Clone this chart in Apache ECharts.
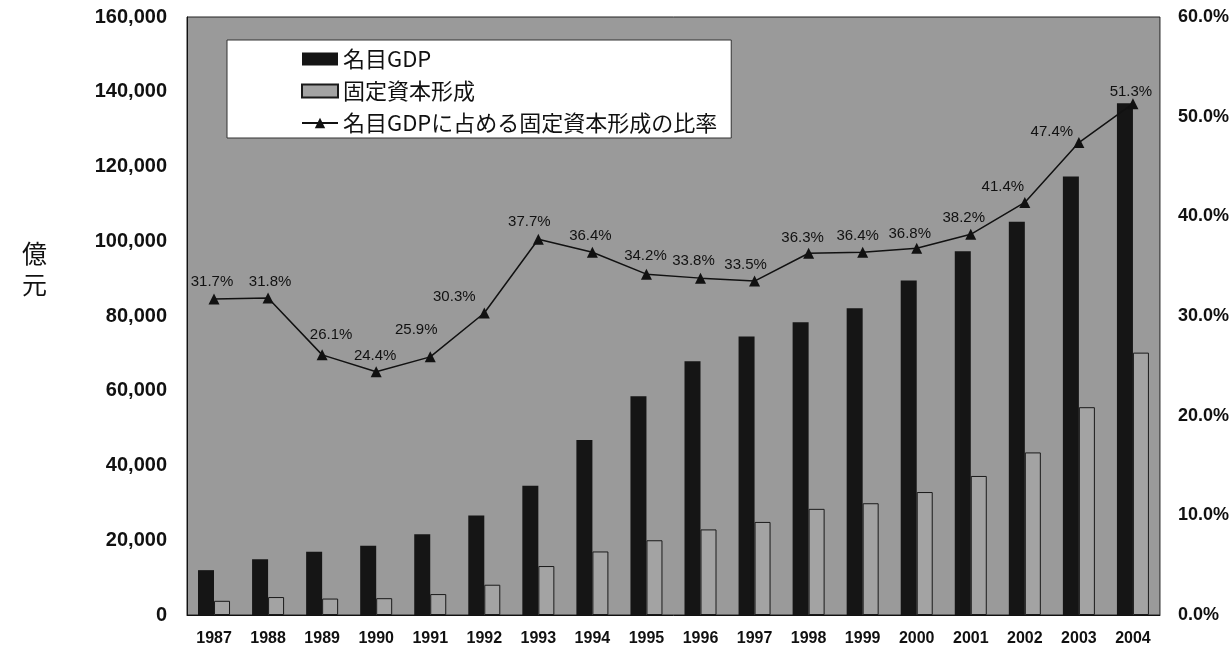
<!DOCTYPE html>
<html>
<head>
<meta charset="utf-8">
<script src="https://cdn.jsdelivr.net/npm/echarts@6/dist/echarts.min.js"></script>
<style>
  html, body { margin: 0; padding: 0; background: #fff; }
  #chart { width: 1232px; height: 648px; }
</style>
</head>
<body>
<div id="chart"></div>
<script>
// Years on the category axis
const years = ['1987', '1988', '1989', '1990', '1991', '1992', '1993', '1994', '1995',
  '1996', '1997', '1998', '1999', '2000', '2001', '2002', '2003', '2004'];

// 名目GDP (億元)
const nominalGdp = [12000, 14900, 16900, 18500, 21600, 26600, 34600, 46800, 58500,
  67900, 74500, 78300, 82100, 89500, 97300, 105200, 117300, 136900];

// 固定資本形成 (億元)
const fixedCapital = [3800, 4800, 4400, 4500, 5600, 8100, 13100, 17000, 20000,
  22900, 24900, 28400, 29900, 32900, 37200, 43500, 55600, 70200];

// 名目GDPに占める固定資本形成の比率 (%)
const ratioPct = [31.7, 31.8, 26.1, 24.4, 25.9, 30.3, 37.7, 36.4, 34.2,
  33.8, 33.5, 36.3, 36.4, 36.8, 38.2, 41.4, 47.4, 51.3];

// Series names shown in the legend
const seriesNames = ['名目GDP', '固定資本形成', '名目GDPに占める固定資本形成の比率'];

// Label nudges (px) so the percentage tags sit clear of the line
const labelNudge = [[-2,-17],[2,-16],[9,-20],[-1,-16],[-14,-27],[-30,-16],[-9,-17],[-2,-16],[-1,-18],
  [-7,-17],[-9,-16],[-6,-15],[-5,-16],[-7,-14],[-7,-16],[-22,-16],[-27,-11],[-2,-12]];

const chart = echarts.init(document.getElementById('chart'), null, { renderer: 'canvas' });

const axisFont = 'Liberation Sans, Arial, sans-serif';

const option = {
  animation: false,
  backgroundColor: '#ffffff',
  grid: {
    left: 187, right: 70, top: 17, bottom: 33,
    show: true,
    backgroundColor: '#9a9a9a',
    borderColor: '#222',
    borderWidth: 1
  },
  legend: {
    orient: 'vertical',
    left: 227, top: 40,
    backgroundColor: '#ffffff',
    borderColor: '#333',
    borderWidth: 1,
    padding: [8, 14, 4, 74],
    itemWidth: 36,
    itemHeight: 13,
    itemGap: 10,
    textStyle: {
      fontFamily: 'Noto Sans CJK JP, sans-serif',
      fontSize: 22,
      lineHeight: 22,
      color: '#111'
    },
    data: [
      { name: seriesNames[0], icon: 'rect' },
      { name: seriesNames[1], icon: 'rect' },
      { name: seriesNames[2] }
    ]
  },
  graphic: [{
    type: 'text',
    left: 22, top: 238,
    style: {
      text: '億\n元',
      font: '25px "Noto Sans CJK JP", sans-serif',
      lineHeight: 31,
      fill: '#111'
    }
  }],
  xAxis: {
    type: 'category',
    data: years,
    axisLine: { lineStyle: { color: '#111', width: 1 } },
    axisTick: { show: false },
    axisLabel: {
      margin: 16,
      fontFamily: axisFont,
      fontSize: 16,
      fontWeight: 'bold',
      color: '#111'
    }
  },
  yAxis: [{
    type: 'value',
    min: 0, max: 160000, interval: 20000,
    axisLine: { show: true, lineStyle: { color: '#111', width: 1 } },
    axisTick: { show: false },
    splitLine: { show: false },
    axisLabel: {
      margin: 20,
      fontFamily: axisFont,
      fontSize: 20,
      fontWeight: 'bold',
      color: '#111',
      formatter: v => v.toLocaleString('en-US')
    }
  }, {
    type: 'value',
    min: 0, max: 60, interval: 10,
    position: 'right',
    axisLine: { show: false },
    axisTick: { show: false },
    splitLine: { show: false },
    axisLabel: {
      margin: 18,
      fontFamily: axisFont,
      fontSize: 18,
      fontWeight: 'bold',
      color: '#111',
      formatter: v => v.toFixed(1) + '%'
    }
  }],
  series: [{
    name: seriesNames[0],
    type: 'bar',
    data: nominalGdp,
    barWidth: 16,
    barGap: '0%',
    itemStyle: { color: '#151515' }
  }, {
    name: seriesNames[1],
    type: 'bar',
    data: fixedCapital,
    barWidth: 16,
    barGap: '0%',
    itemStyle: { color: '#a3a3a3', borderColor: '#1a1a1a', borderWidth: 1 }
  }, {
    name: seriesNames[2],
    type: 'line',
    yAxisIndex: 1,
    data: ratioPct.map((v, i) => ({
      value: v,
      label: { offset: labelNudge[i] }
    })),
    symbol: 'triangle',
    symbolSize: 11,
    lineStyle: { color: '#111', width: 1.5 },
    itemStyle: { color: '#111' },
    label: {
      show: true,
      position: 'inside',
      fontFamily: axisFont,
      fontSize: 15,
      color: '#111',
      formatter: p => p.value.toFixed(1) + '%'
    },
    z: 5
  }]
};

chart.setOption(option);
</script>
</body>
</html>
